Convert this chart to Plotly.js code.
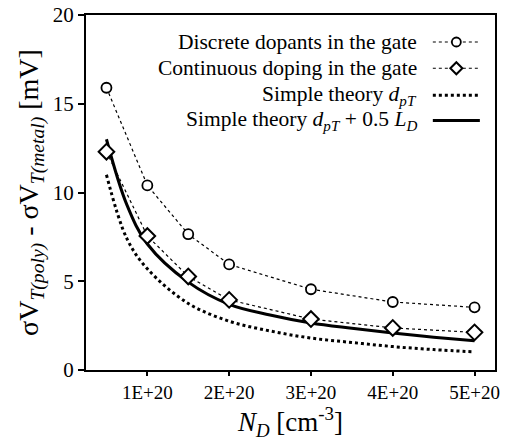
<!DOCTYPE html>
<html>
<head>
<meta charset="utf-8">
<script src="https://cdn.plot.ly/plotly-3.0.1.min.js"></script>
</head>
<body style="margin:0;padding:0;background:#fff;">
<div id="chart"></div>
<script>
// Data (x in cm^-3)
const ndPoints = [5e19, 1e20, 1.5e20, 2e20, 3e20, 4e20, 5e20];
const discreteDopants = [15.9, 10.4, 7.65, 5.95, 4.55, 3.83, 3.53];
const continuousDoping = [12.3, 7.55, 5.27, 3.95, 2.87, 2.37, 2.12];

const ndTheory = [5e19, 7.5e19, 1e20, 1.5e20, 2e20, 2.5e20, 3e20, 3.5e20, 4e20, 4.5e20, 5e20];
const simpleTheory = [11.0, 7.4, 5.7, 3.75, 2.75, 2.2, 1.8, 1.55, 1.32, 1.15, 1.02];
const simpleTheoryLD = [13.0, 9.3, 7.1, 4.95, 3.7, 3.1, 2.65, 2.35, 2.08, 1.85, 1.65];

const xTickVals = [1e20, 2e20, 3e20, 4e20, 5e20];
const xTickText = ['1E+20', '2E+20', '3E+20', '4E+20', '5E+20'];
const yTickVals = [0, 5, 10, 15, 20];

const legendLabels = [
  'Discrete dopants in the gate',
  'Continuous doping in the gate',
  'Simple theory <i>d<sub>pT</sub></i>',
  'Simple theory <i>d<sub>pT</sub></i> + 0.5 <i>L<sub>D</sub></i>'
];

const serif = 'Liberation Serif, serif';

const traces = [
  {x: ndTheory, y: simpleTheory, mode: 'lines', line: {color: '#000', width: 3, dash: 'dot', shape: 'spline'}, showlegend: false},
  {x: ndTheory, y: simpleTheoryLD, mode: 'lines', line: {color: '#000', width: 3, shape: 'spline'}, showlegend: false},
  {x: ndPoints, y: continuousDoping, mode: 'lines+markers', line: {color: '#000', width: 1.2, dash: 'dot'},
   marker: {symbol: 'diamond', size: 12, color: '#fff', line: {color: '#000', width: 2}}, showlegend: false},
  {x: ndPoints, y: discreteDopants, mode: 'lines+markers', line: {color: '#000', width: 1.2, dash: 'dot'},
   marker: {symbol: 'circle', size: 10, color: '#fff', line: {color: '#000', width: 1.8}}, showlegend: false}
];

// Manual legend (text right-aligned, sample on the right)
const rowsY = [0.924, 0.850, 0.774, 0.703];
const lx0 = 0.848, lx1 = 0.963, lxm = (lx0 + lx1) / 2;
const annotations = legendLabels.map((t, i) => ({
  xref: 'paper', yref: 'paper', x: 0.815, y: rowsY[i], xanchor: 'right', yanchor: 'middle',
  text: t, showarrow: false, font: {family: serif, size: 21.5, color: '#000'}
}));
const shapes = [
  {type: 'line', xref: 'paper', yref: 'paper', x0: lx0, x1: lx1, y0: rowsY[0], y1: rowsY[0], line: {color: '#000', width: 1.2, dash: 'dot'}},
  {type: 'line', xref: 'paper', yref: 'paper', x0: lx0, x1: lx1, y0: rowsY[1], y1: rowsY[1], line: {color: '#000', width: 1.2, dash: 'dot'}},
  {type: 'line', xref: 'paper', yref: 'paper', x0: lx0, x1: lx1, y0: rowsY[2], y1: rowsY[2], line: {color: '#000', width: 3, dash: 'dot'}},
  {type: 'line', xref: 'paper', yref: 'paper', x0: lx0, x1: lx1, y0: rowsY[3], y1: rowsY[3], line: {color: '#000', width: 3}},
  {type: 'circle', xref: 'paper', yref: 'paper', xsizemode: 'pixel', ysizemode: 'pixel', xanchor: lxm, yanchor: rowsY[0],
   x0: -4.5, x1: 4.5, y0: -4.5, y1: 4.5, fillcolor: '#fff', line: {color: '#000', width: 1.8}},
  {type: 'path', xref: 'paper', yref: 'paper', xsizemode: 'pixel', ysizemode: 'pixel', xanchor: lxm, yanchor: rowsY[1],
   path: 'M -6 0 L 0 6 L 6 0 L 0 -6 Z', fillcolor: '#fff', line: {color: '#000', width: 2}}
];

const layout = {
  width: 510, height: 442,
  margin: {l: 86, r: 15, t: 15, b: 72},
  paper_bgcolor: '#fff', plot_bgcolor: '#fff',
  showlegend: false,
  font: {family: serif, color: '#000'},
  xaxis: {
    range: [0.25e20, 5.25e20], tickvals: xTickVals, ticktext: xTickText,
    showgrid: false, zeroline: false, showline: true, linecolor: '#000', linewidth: 2, mirror: true,
    ticks: 'outside', ticklen: 4, tickwidth: 1.5, tickcolor: '#000',
    tickfont: {family: serif, size: 19, color: '#000'},
    title: {text: '<i>N<sub>D</sub></i> [cm<sup>-3</sup>]', font: {family: serif, size: 27, color: '#000'}, standoff: 6}
  },
  yaxis: {
    range: [0, 20], tickvals: yTickVals,
    showgrid: false, zeroline: false, showline: true, linecolor: '#000', linewidth: 2, mirror: true,
    ticks: 'outside', ticklen: 6, tickwidth: 1.5, tickcolor: '#000',
    tickfont: {family: serif, size: 21, color: '#000'},
    title: {text: 'σV<sub><i>T(poly)</i></sub> - σV<sub><i>T(metal)</i></sub> [mV]', font: {family: serif, size: 28, color: '#000'}, standoff: 6}
  },
  annotations: annotations,
  shapes: shapes
};

Plotly.newPlot('chart', traces, layout, {displayModeBar: false});
</script>
</body>
</html>
